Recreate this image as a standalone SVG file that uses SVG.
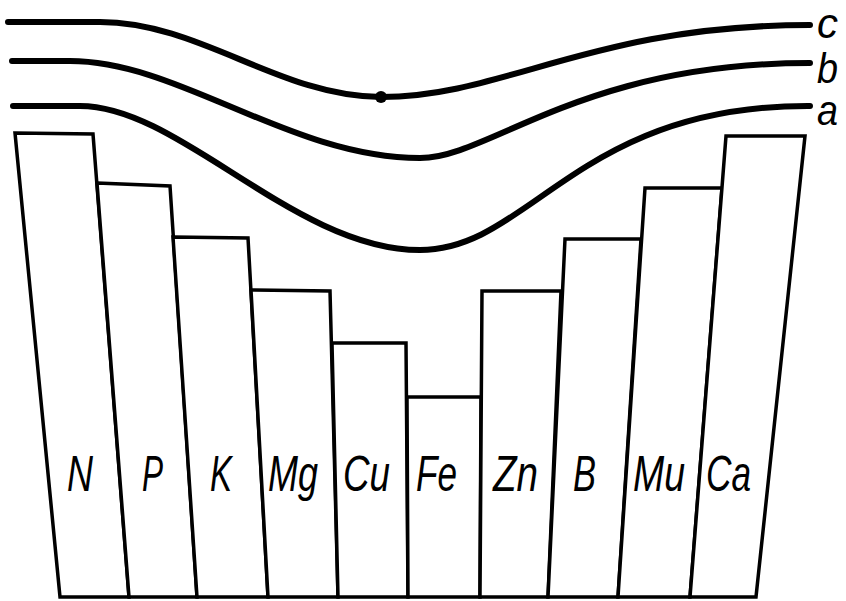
<svg xmlns="http://www.w3.org/2000/svg" width="846" height="601" viewBox="0 0 846 601">
<style>
.bar{fill:#fff;stroke:#000;stroke-width:3.5;stroke-linejoin:miter}
.crv{fill:none;stroke:#000;stroke-width:6;stroke-linecap:round;stroke-linejoin:round}
.lbl{font-family:"Liberation Sans",Arial,sans-serif;font-style:italic;font-size:50px;fill:#000}
.cl{font-family:"Liberation Sans",Arial,sans-serif;font-style:italic;font-size:42px;fill:#000}
</style>
<rect width="846" height="601" fill="#fff"/>
<g id="bars">
<g id="bar-N"><polygon class="bar" points="15,133 93,134 129,597 60,597"/><text class="lbl" x="67" y="491" textLength="26" lengthAdjust="spacingAndGlyphs">N</text></g>
<g id="bar-P"><polygon class="bar" points="97,183 170,186 197,597 129,597"/><text class="lbl" x="142" y="491" textLength="21" lengthAdjust="spacingAndGlyphs">P</text></g>
<g id="bar-K"><polygon class="bar" points="173,237 248,238 268,597 197,597"/><text class="lbl" x="210" y="491" textLength="22" lengthAdjust="spacingAndGlyphs">K</text></g>
<g id="bar-Mg"><polygon class="bar" points="251,290 330,291 338,597 268,597"/><text class="lbl" x="268" y="491" textLength="50" lengthAdjust="spacingAndGlyphs">Mg</text></g>
<g id="bar-Cu"><polygon class="bar" points="332,343 406,343 408,597 338,597"/><text class="lbl" x="343" y="491" textLength="47" lengthAdjust="spacingAndGlyphs">Cu</text></g>
<g id="bar-Fe"><polygon class="bar" points="407,397 481,397 480,597 408,597"/><text class="lbl" x="416" y="491" textLength="41" lengthAdjust="spacingAndGlyphs">Fe</text></g>
<g id="bar-Zn"><polygon class="bar" points="482,291 561,291 548,597 480,597"/><text class="lbl" x="493" y="491" textLength="45" lengthAdjust="spacingAndGlyphs">Zn</text></g>
<g id="bar-B"><polygon class="bar" points="565,239 641,239 618,597 548,597"/><text class="lbl" x="573" y="491" textLength="23" lengthAdjust="spacingAndGlyphs">B</text></g>
<g id="bar-Mu"><polygon class="bar" points="645,188 722,188 690,597 618,597"/><text class="lbl" x="633" y="491" textLength="52" lengthAdjust="spacingAndGlyphs">Mu</text></g>
<g id="bar-Ca"><polygon class="bar" points="726,136 805,136 756,597 690,597"/><text class="lbl" x="706" y="491" textLength="45" lengthAdjust="spacingAndGlyphs">Ca</text></g>
</g>
<g id="connectors">
<path id="curve-c" class="crv" d="M8,22 L100,22 C200,22 280,97 381,97 C505,97 591,25 810,25"/>
<circle cx="381" cy="97" r="6" fill="#000"/>
<path id="curve-b" class="crv" d="M12,61 L70,61 C180,61 290,158 420,158 C490,158 580,63 810,63"/>
<path id="curve-a" class="crv" d="M13,106 L80,106 C180,106 295,250 420,250 C530,250 577,105 810,106"/>
</g>
<g id="curve-labels">
<text class="cl" x="817" y="38" textLength="21" lengthAdjust="spacingAndGlyphs">c</text>
<text class="cl" x="817" y="83" textLength="21" lengthAdjust="spacingAndGlyphs">b</text>
<text class="cl" x="817" y="125" textLength="21" lengthAdjust="spacingAndGlyphs">a</text>
</g>
</svg>
